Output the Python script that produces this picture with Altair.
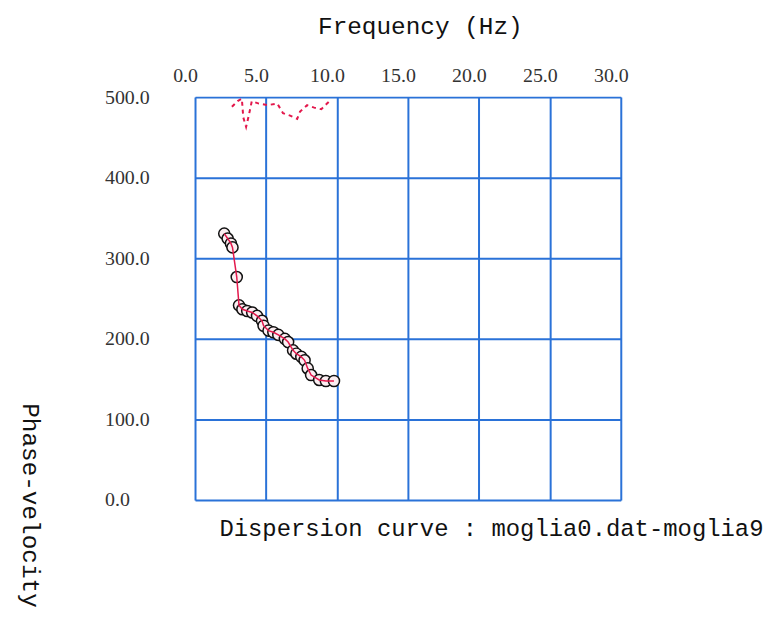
import altair as alt
import pandas as pd

# Dispersion curve (fundamental mode picks)
freq = [2.06, 2.30, 2.53, 2.64, 2.94, 3.10, 3.34, 3.68, 4.03, 4.37, 4.72, 4.83,
        5.18, 5.52, 5.87, 6.33, 6.56, 6.91, 7.14, 7.49, 7.72, 7.94, 8.18, 8.75,
        9.22, 9.79]
vel = [330.6, 324.5, 318.4, 313.5, 276.7, 241.6, 236.7, 234.6, 232.7, 228.5,
       222.4, 216.3, 210.2, 208.2, 204.9, 200.0, 196.0, 185.7, 181.6, 177.6,
       173.4, 163.3, 155.1, 149.0, 147.7, 147.7]

# Dashed (noisy) curve near the top
freq2 = [2.6, 3.0, 3.3, 3.4, 3.6, 3.8, 4.0, 4.5, 5.1, 5.8, 6.2, 6.7, 7.2, 7.4,
         7.9, 8.4, 8.9, 9.3, 9.6]
vel2 = [488, 495, 498, 475, 463, 478, 495, 492, 490, 492, 480, 477, 473, 482,
        490, 487, 485, 492, 497]

x_ticks = [0, 5, 10, 15, 20, 25, 30]
y_ticks = [0, 100, 200, 300, 400, 500]

df = pd.DataFrame({"f": freq, "v": vel, "i": list(range(len(freq)))})
df2 = pd.DataFrame({"f": freq2, "v": vel2, "i": list(range(len(freq2)))})

BLUE = "#2a72d8"
RED = "#e3184c"

xscale = alt.Scale(domain=[0, 30], nice=False, zero=False)
yscale = alt.Scale(domain=[0, 500], nice=False, zero=False)

xaxis = alt.Axis(orient="top", values=x_ticks, format=".1f", title="Frequency (Hz)",
                 grid=True, gridColor=BLUE, gridWidth=2, domain=False, ticks=False,
                 labelFont="Liberation Serif", labelFontSize=20, labelColor="#333",
                 labelPadding=12, labelOffset=-10, labelFlush=False,
                 titleFont="Liberation Mono", titleFontSize=24.5, titleFontWeight="normal",
                 titleColor="#111", titlePadding=27, titleX=226)
xaxis_bottom = alt.Axis(orient="bottom", grid=False, domain=False, ticks=False,
                        labels=False, title="Dispersion curve : moglia0.dat-moglia9",
                        titleFont="Liberation Mono", titleFontSize=24,
                        titleFontWeight="normal", titleColor="#111",
                        titleAnchor="start", titleAlign="left", titleX=24,
                        titleBaseline="top", titlePadding=17)
yaxis = alt.Axis(orient="left", values=y_ticks, format=".1f", title="Phase-velocity",
                 grid=True, gridColor=BLUE, gridWidth=2, domain=False, ticks=False,
                 labelFont="Liberation Serif", labelFontSize=20, labelColor="#333",
                 labelAlign="left", labelBaseline="middle", labelPadding=91,
                 labelFlush=False,
                 titleFont="Liberation Mono", titleFontSize=24.5, titleFontWeight="normal",
                 titleColor="#111", titleAngle=90, titleAlign="center",
                 titleBaseline="middle", titleX=-166, titleY=410)

dashed = alt.Chart(df2).mark_line(color=RED, strokeDash=[4, 4], strokeWidth=2).encode(
    x=alt.X("f:Q", scale=xscale, axis=xaxis),
    y=alt.Y("v:Q", scale=yscale, axis=yaxis),
    order="i:Q",
)

pts = alt.Chart(df).mark_point(shape="circle", filled=False, fill="#fbeef1",
                               fillOpacity=1, stroke="#111", strokeWidth=1.5,
                               size=125, opacity=1).encode(
    x=alt.X("f:Q", scale=xscale, axis=xaxis_bottom),
    y=alt.Y("v:Q", scale=yscale, axis=yaxis),
)

line = alt.Chart(df).mark_line(color=RED, strokeWidth=1.5).encode(
    x=alt.X("f:Q", scale=xscale, axis=None),
    y=alt.Y("v:Q", scale=yscale, axis=yaxis),
    order="i:Q",
)

chart = alt.layer(dashed, pts, line).resolve_axis(x="independent").properties(
    width=428,
    height=405,
    autosize=alt.AutoSizeParams(type="none"),
    padding={"left": 188, "top": 88, "right": 150, "bottom": 114},
).configure_view(stroke=BLUE, strokeWidth=2).configure(background="white")

chart.save("out.html", embed_options={"renderer": "svg", "actions": False})
